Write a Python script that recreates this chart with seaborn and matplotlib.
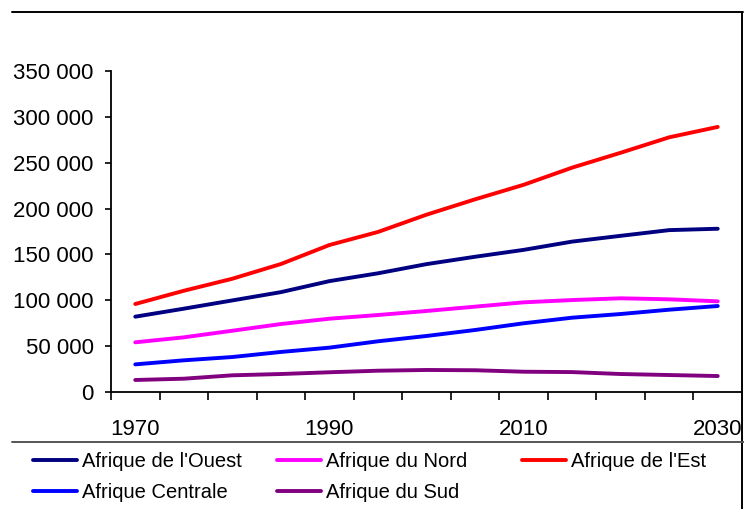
import matplotlib
matplotlib.use("Agg")
import matplotlib.pyplot as plt
import pandas as pd
import seaborn as sns
from matplotlib.lines import Line2D
from matplotlib.ticker import FuncFormatter, MultipleLocator

# Population by African region (thousands of people), 1970-2030, every 5 years
years = [1970, 1975, 1980, 1985, 1990, 1995, 2000, 2005, 2010, 2015, 2020, 2025, 2030]
regions = ["Afrique de l'Ouest", "Afrique du Nord", "Afrique de l'Est",
           "Afrique Centrale", "Afrique du Sud"]
colors = ["#000080", "#FF00FF", "#FF0000", "#0000FF", "#800080"]

ouest = [82300, 91000, 100000, 109000, 121000, 129500, 139500, 147500, 155000, 164000, 170300, 176500, 178000]
nord = [54400, 59800, 67000, 74300, 80100, 84100, 88500, 93200, 97900, 100400, 102300, 101200, 99000]
est = [96100, 110500, 123600, 139600, 160300, 174500, 193300, 210000, 225800, 244500, 260700, 277500, 288800]
centrale = [30400, 34800, 38400, 43900, 48600, 55500, 61300, 67800, 75100, 81200, 85200, 89900, 93900]
sud = [13400, 14800, 18500, 19900, 21800, 23500, 24300, 24000, 22400, 22000, 19900, 18800, 17700]

df = pd.DataFrame({"year": years, regions[0]: ouest, regions[1]: nord,
                   regions[2]: est, regions[3]: centrale, regions[4]: sud})
df = df.melt(id_vars="year", var_name="region", value_name="value")

sns.set_style("white")
plt.rcParams["font.family"] = ["Liberation Sans", "DejaVu Sans"]
plt.rcParams["text.color"] = "black"

fig = plt.figure(figsize=(7.44, 5.09), dpi=100)
ax = fig.add_axes([111 / 744, 1 - 392.3 / 509, 631 / 744, 321.6 / 509])

sns.lineplot(data=df, x="year", y="value", hue="region", hue_order=regions,
             palette=colors, linewidth=2.8, ax=ax)

handles, labels = ax.get_legend_handles_labels()
ax.get_legend().remove()
h = dict(zip(labels, handles))

ax.set_xlim(1967.5, 2032.5)
ax.set_ylim(0, 350000)
ax.set_xlabel("")
ax.set_ylabel("")
for side in ["top", "right"]:
    ax.spines[side].set_visible(False)
for side in ["left", "bottom"]:
    ax.spines[side].set_color("black")
    ax.spines[side].set_linewidth(1.3)

ax.yaxis.set_major_locator(MultipleLocator(50000))
ax.yaxis.set_major_formatter(FuncFormatter(lambda v, p: f"{int(v):,}".replace(",", " ")))
ax.tick_params(axis="y", which="major", direction="out", length=4, width=1.2,
               left=True, pad=8.5, labelsize=16, colors="black")

ax.set_xticks([1970, 1990, 2010, 2030])
ax.set_xticks([1967.5 + 5 * k for k in range(14)], minor=True)
ax.tick_params(axis="x", which="major", length=0, pad=19, labelsize=16, colors="black")
ax.tick_params(axis="x", which="minor", direction="out", length=6, width=1.2,
               bottom=True, color="black")

# chart frame and legend separator
fig.add_artist(Line2D([12 / 744, 743 / 744], [1 - 11.7 / 509] * 2,
                      transform=fig.transFigure, color="black", lw=1.4))
fig.add_artist(Line2D([742.3 / 744] * 2, [1 - 11.7 / 509, 0],
                      transform=fig.transFigure, color="black", lw=1.4))
fig.add_artist(Line2D([12 / 744, 1], [1 - 441.5 / 509] * 2,
                      transform=fig.transFigure, color="#555555", lw=1.4))

legend_cols = [
    (33, [regions[0], regions[3]]),
    (277, [regions[1], regions[4]]),
    (522, [regions[2]]),
]
for x0, names in legend_cols:
    fig.legend(handles=[h[n] for n in names], labels=names, loc="upper left",
               bbox_to_anchor=(x0 / 744, 1 - 452 / 509), frameon=False,
               fontsize=14.5, handlelength=2.2, handletextpad=0.25,
               labelspacing=0.62, borderpad=0, borderaxespad=0,
               labelcolor="black")

fig.savefig("out.png", dpi=100)
